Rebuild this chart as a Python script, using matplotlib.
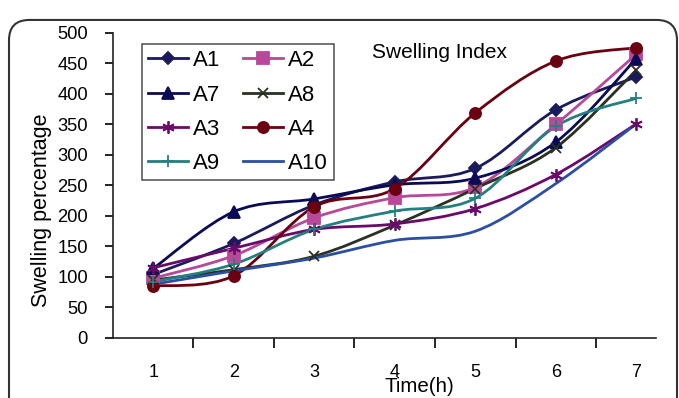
import matplotlib.pyplot as plt
from matplotlib.path import Path
from matplotlib.patches import PathPatch, FancyBboxPatch
from matplotlib.lines import Line2D

plt.rcParams['font.family'] = ['Liberation Sans', 'DejaVu Sans']

hours = [1, 2, 3, 4, 5, 6, 7]
a1 = [104, 155, 218, 256, 278, 374, 428]
a2 = [98, 135, 197, 230, 247, 350, 465]
a7 = [114, 207, 228, 251, 262, 321, 458]
a8 = [95, 112, 134, 185, 245, 312, 439]
a3 = [115, 147, 178, 187, 212, 268, 351]
a4 = [85, 102, 215, 245, 369, 454, 476]
a9 = [92, 121, 178, 208, 229, 347, 393]
a10 = [88, 110, 131, 160, 175, 253, 351]

# name, values, colour, marker, marker size
series = {
    'A1': (a1, '#1a1a5c', 'D', 6),
    'A2': (a2, '#b8489a', 's', 8),
    'A7': (a7, '#0b0b55', '^', 8),
    'A8': (a8, '#2a3122', 'x', 7),
    'A3': (a3, '#6a0a6a', (6, 2, 0), 9),
    'A4': (a4, '#6a0010', 'o', 8),
    'A9': (a9, '#24807f', '+', 9),
    'A10': (a10, '#2b4fa3', None, 0),
}
# legend is filled column by column
legend_order = ['A1', 'A7', 'A3', 'A9', 'A2', 'A8', 'A4', 'A10']


def smooth_path(xs, ys):
    # Excel-style smoothed line: cubic Bezier segments through the points
    pts = list(zip(xs, ys))
    verts = [pts[0]]
    codes = [Path.MOVETO]
    n = len(pts)
    for i in range(n - 1):
        p0 = pts[i - 1] if i > 0 else pts[i]
        p1 = pts[i]
        p2 = pts[i + 1]
        p3 = pts[i + 2] if i + 2 < n else pts[i + 1]
        c1 = (p1[0] + (p2[0] - p0[0]) / 6, p1[1] + (p2[1] - p0[1]) / 6)
        c2 = (p2[0] - (p3[0] - p1[0]) / 6, p2[1] - (p3[1] - p1[1]) / 6)
        verts += [c1, c2, p2]
        codes += [Path.CURVE4] * 3
    return Path(verts, codes)


fig = plt.figure(figsize=(6.79, 3.98), dpi=100)
ax = fig.add_axes([0.1664, 0.1508, 0.7997, 0.7663])

handles = {}
for name, (vals, col, mk, ms) in series.items():
    ax.add_patch(PathPatch(smooth_path(hours, vals), facecolor='none',
                           edgecolor=col, lw=2.0, zorder=2))
    if mk is not None:
        ax.plot(hours, vals, linestyle='none', marker=mk, markersize=ms,
                color=col, markeredgecolor=col, markeredgewidth=1.3, zorder=3)
    handles[name] = Line2D([], [], color=col, lw=2.0, marker=mk, markersize=ms,
                           markeredgecolor=col, markeredgewidth=1.3)

ax.set_xlim(0.5, 7.245)
ax.set_ylim(0, 500)
ax.set_yticks(range(0, 501, 50))
ax.set_xticks([1.5, 2.5, 3.5, 4.5, 5.5, 6.5])
ax.set_xticks(hours, minor=True)
ax.set_xticklabels([])
ax.set_xticklabels([str(h) for h in hours], minor=True)
ax.tick_params(axis='x', which='major', direction='out', length=7, width=1.2)
ax.tick_params(axis='x', which='minor', length=0, pad=19, labelsize=13)
ax.tick_params(axis='y', direction='out', length=6, width=1.2, labelsize=13.2, pad=12)
for s in ['top', 'right']:
    ax.spines[s].set_visible(False)
for s in ['left', 'bottom']:
    ax.spines[s].set_linewidth(1.2)
    ax.spines[s].set_color('#222222')

ax.set_ylabel('Swelling percentage', fontsize=15.5)
ax.yaxis.set_label_coords(-0.112, 0.42)
ax.set_xlabel('Time(h)', fontsize=14.8)
ax.xaxis.set_label_coords(0.565, -0.128)
ax.text(0.601, 0.917, 'Swelling Index', transform=ax.transAxes, fontsize=15,
        ha='center', va='baseline')

leg = ax.legend([handles[k] for k in legend_order], legend_order, ncol=2,
                loc='upper left', bbox_to_anchor=(0.0534, 0.964), fontsize=16,
                frameon=True, fancybox=False, edgecolor='#333333',
                handlelength=1.8, handletextpad=0.22, columnspacing=1.0,
                labelspacing=0.6, borderpad=0.28, borderaxespad=0)
leg.get_frame().set_linewidth(1.2)

box = FancyBboxPatch((9 / 679, -0.1), 668 / 679, 1.075 - 10 / 398,
                     boxstyle='round,pad=0,rounding_size=0.03',
                     transform=fig.transFigure, facecolor='none',
                     edgecolor='#333333', lw=1.5, mutation_aspect=679 / 398)
fig.patches.append(box)

fig.savefig('out.png', dpi=100)
